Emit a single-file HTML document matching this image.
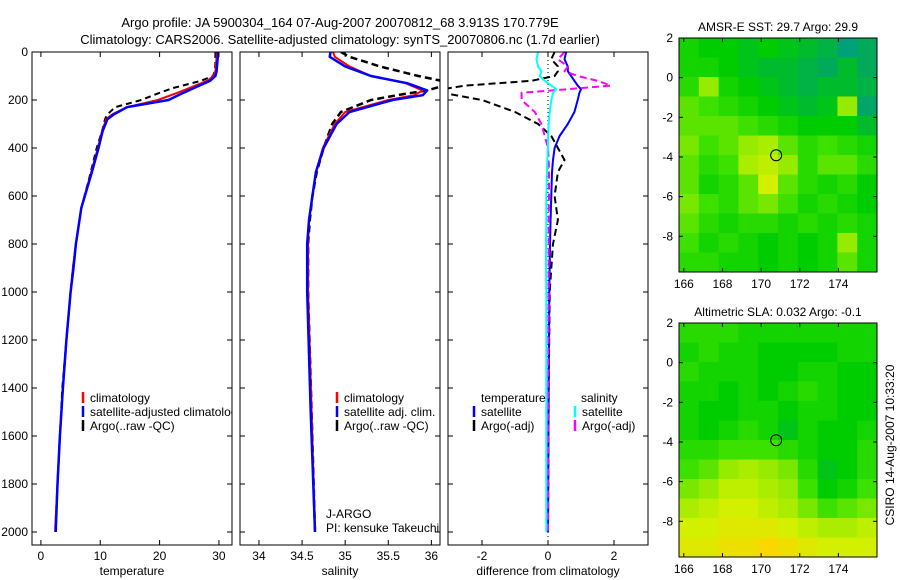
<!DOCTYPE html>
<html><head><meta charset="utf-8"><style>
body{margin:0;background:#fff}
svg{display:block;font-family:"Liberation Sans",sans-serif}
text{font-size:12px;fill:#000}
</style></head><body>
<svg id="fig" width="900" height="580" viewBox="0 0 900 580">
<text x="340" y="27" text-anchor="middle" style="font-size:13px">Argo profile: JA 5900304_164 07-Aug-2007 20070812_68 3.913S 170.779E</text>
<text x="340" y="44" text-anchor="middle" style="font-size:13px">Climatology: CARS2006. Satellite-adjusted climatology: synTS_20070806.nc (1.7d earlier)</text>
<text transform="translate(894,445) rotate(-90)" text-anchor="middle">CSIRO 14-Aug-2007 10:33:20</text>
</svg>
<script>
// ---- profile data ----
const depthT=[0,20,50,80,100,120,150,170,200,230,260,280,330,400,500,650,800,900,1000,1200,1400,1600,1800,2000];
const tempClim=[29.6,29.6,29.5,29.4,29.1,28,25,23,19.7,14.5,12,11,10.3,9.6,8.5,6.8,5.9,5.4,5,4.3,3.7,3.2,2.8,2.4];
const tempSat=[29.8,29.8,29.7,29.6,29.4,28.5,25.8,24,21.5,14.5,12.3,11.2,10.4,9.7,8.6,6.8,5.9,5.5,5,4.3,3.7,3.2,2.8,2.5];
const tempArgo=[29.4,29.4,29.4,29.3,29,27,22.3,20,16.9,12.5,11.2,10.8,10.3,9.4,8.4,6.8,5.9,5.4,5,4.3,3.6,3.2,2.8,2.4];
const depthS=[0,20,60,100,130,160,180,200,250,300,400,500,600,700,800,1000,1500,2000];
const salClim=[34.86,34.88,35.05,35.3,35.7,35.9,35.8,35.5,35.0,34.88,34.74,34.66,34.62,34.58,34.57,34.57,34.61,34.65];
const salSat=[34.83,34.82,35.0,35.3,35.72,35.95,35.9,35.55,35.05,34.9,34.75,34.66,34.62,34.58,34.56,34.56,34.6,34.65];
const salArgo=[34.95,35.05,35.4,35.85,36.25,35.95,35.6,35.3,34.95,34.85,34.75,34.67,34.62,34.59,34.57,34.57,34.61,34.65];
const depthD=[0,30,60,80,100,120,140,155,170,200,250,300,350,400,450,500,600,700,800,900,1000,1400,2000];
const dTempSat=[0.55,0.5,0.6,0.6,0.7,0.8,0.9,1.0,0.95,0.9,0.8,0.6,0.35,0.2,0.15,0.12,0.1,0.08,0.06,0.05,0.04,0.02,0];
const dTempArgo=[0.2,0.1,0.3,0.3,0.2,-0.5,-2.5,-3.2,-3.2,-2.0,-1.0,-0.3,0.1,0.3,0.5,0.3,0.2,0.3,0.15,0.1,0.05,0.02,0];
const dSalSat=[-0.3,-0.35,-0.3,-0.2,-0.25,-0.1,0.1,0.25,0.15,0.1,0.05,0.02,0,0,-0.02,-0.03,-0.05,-0.05,-0.06,-0.06,-0.05,-0.05,-0.05];
const dSalArgo=[0.5,0.3,0.6,0.5,0.9,1.5,1.9,0.6,-0.8,-0.8,-0.4,-0.2,-0.1,0,0.02,0.03,0.03,0.02,0.02,0.02,0.02,0.01,0];
const depthTicks=[0,200,400,600,800,1000,1200,1400,1600,1800,2000];
const tempTicks=[0,10,20,30];
const salTicks=[34,34.5,35,35.5,36];
const diffTicks=[-2,0,2];
// ---- map data (rows lat 2 -> -9.8, cols lon 165.75 -> 176) ----
const sstGrid=[
[.45,.4,.4,.35,.4,.35,.3,.25,.1,.2],
[.45,.45,.4,.35,.3,.3,.25,.2,.3,.2],
[.5,.7,.45,.4,.35,.3,.25,.3,.3,.25],
[.6,.55,.5,.45,.4,.35,.3,.35,.7,.15],
[.6,.6,.6,.55,.5,.45,.4,.4,.4,.3],
[.65,.55,.6,.7,.75,.6,.5,.55,.5,.45],
[.6,.5,.55,.75,.8,.7,.5,.6,.6,.5],
[.6,.45,.5,.6,.85,.6,.5,.45,.5,.4],
[.65,.55,.5,.6,.65,.55,.45,.5,.45,.4],
[.6,.5,.45,.5,.5,.45,.5,.45,.5,.45],
[.55,.45,.5,.45,.4,.45,.4,.45,.7,.45],
[.5,.5,.45,.45,.4,.45,.4,.45,.6,.45]];
const slaGrid=[
[.5,.5,.5,.45,.45,.45,.45,.45,.45,.45],
[.45,.5,.45,.45,.4,.4,.4,.4,.45,.45],
[.5,.45,.45,.45,.4,.4,.45,.45,.4,.4],
[.45,.45,.4,.45,.4,.45,.5,.45,.4,.4],
[.45,.4,.4,.45,.45,.4,.45,.45,.4,.4],
[.45,.4,.45,.5,.45,.35,.45,.4,.4,.45],
[.5,.5,.55,.55,.55,.5,.45,.4,.4,.5],
[.55,.6,.7,.75,.7,.65,.5,.35,.4,.5],
[.65,.7,.8,.8,.75,.7,.55,.4,.45,.55],
[.75,.8,.85,.85,.8,.75,.65,.55,.6,.65],
[.85,.85,.9,.9,.9,.85,.8,.75,.75,.8],
[.9,.9,.95,.95,1,.95,.9,.85,.85,.85]];
const lonTicks=[166,168,170,172,174];
const latTicks=[2,0,-2,-4,-6,-8];
const argoLon=170.78, argoLat=-3.91;

const NS='http://www.w3.org/2000/svg';
const svg=document.getElementById('fig');
function mk(tag,attrs,parent){const e=document.createElementNS(NS,tag);for(const k in attrs)e.setAttribute(k,attrs[k]);(parent||svg).appendChild(e);return e;}
const yTop=52,yBot=545;
const yD=d=>yTop+d*0.24;

function panel(name,x0,x1,vmin,vmax,ticks,fmt,label,showY){
  const g=mk('g',{});
  
  
  const xs=v=>x0+(v-vmin)/(vmax-vmin)*(x1-x0);
  const cid='clip-'+name;
  const cp=mk('clipPath',{id:cid},g);mk('rect',{x:x0,y:yTop,width:x1-x0,height:yBot-yTop},cp);
  const plot=mk('g',{'clip-path':'url(#'+cid+')'},g);
  ticks.forEach(t=>{const x=xs(t);
    mk('line',{x1:x,x2:x,y1:yBot,y2:yBot-5,stroke:'#000'},g);
    mk('line',{x1:x,x2:x,y1:yTop,y2:yTop+5,stroke:'#000'},g);
    const tx=mk('text',{x:x,y:yBot+15,'text-anchor':'middle'},g);tx.textContent=fmt(t);
    
    
  });
  depthTicks.forEach(d=>{const y=yD(d);
    mk('line',{x1:x0,x2:x0+5,y1:y,y2:y,stroke:'#000'},g);
    mk('line',{x1:x1,x2:x1-5,y1:y,y2:y,stroke:'#000'},g);
    if(showY){const tx=mk('text',{x:x0-4,y:y+4,'text-anchor':'end'},g);tx.textContent=d;
      
      }
  });
  const xl=mk('text',{x:(x0+x1)/2,y:575,'text-anchor':'middle'},g);xl.textContent=label;
  
  
  mk('rect',{x:x0,y:yTop,width:x1-x0,height:yBot-yTop,fill:'none',stroke:'#000'},g);
  return {g,plot,xs};
}
function line(p,depths,vals,color,w,dash,name){
  const pts=depths.map((d,i)=>p.xs(vals[i]).toFixed(1)+','+yD(d).toFixed(1)).join(' ');
  const pl=mk('polyline',{points:pts,fill:'none',stroke:color,'stroke-width':w,'stroke-linejoin':'round'},p.plot);
  if(dash)pl.setAttribute('stroke-dasharray',dash);
  
  
}
function legend(g,x,y,color,label,name){
  mk('line',{x1:x,x2:x,y1:y-10,y2:y+1,stroke:color,'stroke-width':2.5},g);
  const t=mk('text',{x:x+7,y:y},g);t.textContent=label;
  
  
}
// Panel 1
const p1=panel('temperature-panel',32,232,-1.5,32.2,tempTicks,v=>v,'temperature',true);
line(p1,depthT,tempArgo,'#000',2,'6,4','argo-temperature-line');
line(p1,depthT,tempClim,'#f00',2,null,'clim-temperature-line');
line(p1,depthT,tempSat,'#00f',2.5,null,'sat-temperature-line');
legend(p1.plot,83,402,'#f00','climatology','legend-climatology');
legend(p1.plot,83,416,'#00f','satellite-adjusted climatology','legend-satellite-adjusted');
legend(p1.plot,83,430,'#000','Argo(..raw -QC)','legend-argo');
// Panel 2
const p2=panel('salinity-panel',240,440,33.78,36.1,salTicks,v=>v,'salinity',false);
line(p2,depthS,salArgo,'#000',2.5,'7,4','argo-salinity-line');
line(p2,depthS,salClim,'#f00',2,null,'clim-salinity-line');
line(p2,depthS,salSat,'#00f',2.5,null,'sat-salinity-line');
legend(p2.g,337,402,'#f00','climatology','legend-climatology');
legend(p2.g,337,416,'#00f','satellite adj. clim.','legend-satellite-adj');
legend(p2.g,337,430,'#000','Argo(..raw -QC)','legend-argo');
const ja=mk('text',{x:326,y:518},p2.g);ja.textContent='J-ARGO';


const pi=mk('text',{x:326,y:532},p2.g);pi.textContent='PI: kensuke Takeuchi';


// Panel 3
const p3=panel('difference-panel',448,648,-3.03,3.03,diffTicks,v=>v,'difference from climatology',false);
mk('line',{x1:p3.xs(0),x2:p3.xs(0),y1:yTop,y2:yBot,stroke:'#000','stroke-dasharray':'1,3'},p3.plot);
line(p3,depthD,dTempArgo,'#000',2,'7,4','argo-temp-diff-line');
line(p3,depthD,dTempSat,'#00f',2,null,'sat-temp-diff-line');
line(p3,depthD,dSalArgo,'#f0f',2,'7,4','argo-sal-diff-line');
line(p3,depthD,dSalSat,'#0ff',2,null,'sat-sal-diff-line');
const tl=mk('text',{x:481,y:402},p3.g);tl.textContent='temperature';


const sl=mk('text',{x:581,y:402},p3.g);sl.textContent='salinity';


legend(p3.g,474,416,'#00f','satellite','legend-temp-satellite');
legend(p3.g,474,430,'#000','Argo(-adj)','legend-temp-argo');
legend(p3.g,575,416,'#0ff','satellite','legend-sal-satellite');
legend(p3.g,575,430,'#f0f','Argo(-adj)','legend-sal-argo');

// ---- maps ----
function cmap(v){
  const stops=[[0,[0,150,150]],[0.2,[0,170,90]],[0.4,[0,205,0]],[0.55,[60,225,0]],[0.7,[150,235,0]],[0.85,[210,240,0]],[1,[250,215,0]]];
  for(let i=1;i<stops.length;i++){if(v<=stops[i][0]){const a=stops[i-1],b=stops[i],t=(v-a[0])/(b[0]-a[0]);
    return 'rgb('+a[1].map((c,k)=>Math.round(c+(b[1][k]-c)*t)).join(',')+')';}}
  return 'rgb(250,215,0)';
}
function map(name,grid,top,title){
  const x0=679,x1=877,y0=top,y1=top+234;
  const lon0=165.75,lon1=176,lat0=2,lat1=-9.8;
  const xs=l=>x0+(l-lon0)/(lon1-lon0)*(x1-x0), ys=l=>y0+(l-lat0)/(lat1-lat0)*(y1-y0);
  const g=mk('g',{});
  
  
  const nr=grid.length,nc=grid[0].length,cw=(x1-x0)/nc,ch=(y1-y0)/nr;
  grid.forEach((row,r)=>row.forEach((v,c)=>{
    const cell=mk('rect',{x:x0+c*cw,y:y0+r*ch,width:cw+0.5,height:ch+0.5,fill:cmap(v)},g);
    
    
  }));
  mk('rect',{x:x0,y:y0,width:x1-x0,height:y1-y0,fill:'none',stroke:'#000'},g);
  lonTicks.forEach(l=>{const x=xs(l);
    mk('line',{x1:x,x2:x,y1:y1,y2:y1-4,stroke:'#000'},g);
    mk('line',{x1:x,x2:x,y1:y0,y2:y0+4,stroke:'#000'},g);
    const t=mk('text',{x:x,y:y1+16,'text-anchor':'middle'},g);t.textContent=l;
    
    });
  latTicks.forEach(l=>{const y=ys(l);
    mk('line',{x1:x0,x2:x0+4,y1:y,y2:y,stroke:'#000'},g);
    mk('line',{x1:x1,x2:x1-4,y1:y,y2:y,stroke:'#000'},g);
    const t=mk('text',{x:x0-6,y:y+4,'text-anchor':'end'},g);t.textContent=l;
    
    });
  const tt=mk('text',{x:(x0+x1)/2,y:top-7,'text-anchor':'middle'},g);tt.textContent=title;
  
  
  const c=mk('circle',{cx:xs(argoLon),cy:ys(argoLat),r:5.5,fill:'none',stroke:'#000'},g);
  
  
}
map('sst-map',sstGrid,38,'AMSR-E SST: 29.7 Argo: 29.9');
map('sla-map',slaGrid,323,'Altimetric SLA: 0.032 Argo: -0.1');
</script>
</body></html>
